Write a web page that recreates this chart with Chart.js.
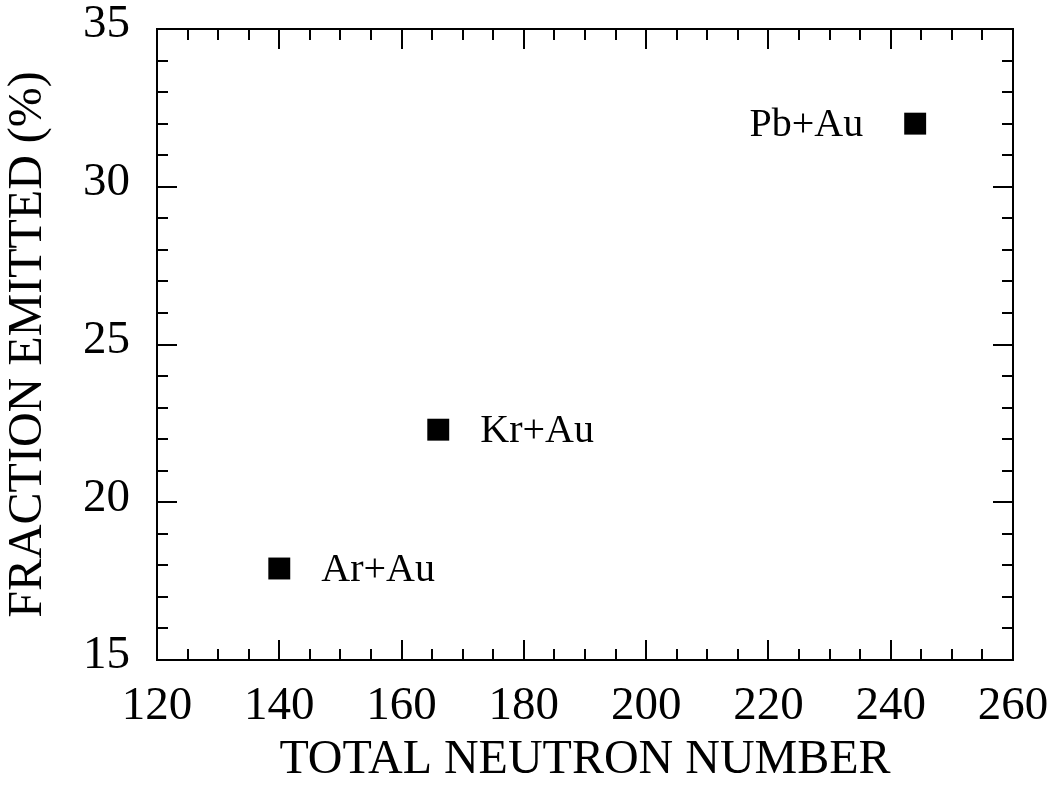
<!DOCTYPE html>
<html>
<head>
<meta charset="utf-8">
<script src="https://cdn.jsdelivr.net/npm/chart.js@4.4.1/dist/chart.umd.min.js"></script>
<style>
  html, body { margin: 0; padding: 0; background: #ffffff; }
  canvas { display: block; }
</style>
</head>
<body>
<canvas id="chart" width="1058" height="789"></canvas>
<script>
// Collision systems and their measured values
const systems = ['Ar+Au', 'Kr+Au', 'Pb+Au'];
const totalNeutronNumber = [140, 166, 244];
const fractionEmitted = [17.9, 22.3, 32.0];

// Axis tick labels
const xTicks = [120, 140, 160, 180, 200, 220, 240, 260];
const yTicks = [15, 20, 25, 30, 35];

// Which side of its marker each system name is written on
const labelSide = ['right', 'right', 'left'];

const SERIF = '"Liberation Serif", "Times New Roman", serif';

// Boxed frame with inward major and minor ticks on all four sides
const frameTicks = {
  id: 'frameTicks',
  afterDraw(chart) {
    const { ctx, chartArea: a, scales: { x, y } } = chart;
    const major = 20, minor = 11;
    ctx.save();
    ctx.strokeStyle = '#000';
    ctx.lineWidth = 2;
    ctx.beginPath();
    for (let v = x.min; v <= x.max + 1e-9; v += 5) {
      const px = Math.round(x.getPixelForValue(v));
      const len = (v % 20 === 0) ? major : minor;
      ctx.moveTo(px, a.bottom); ctx.lineTo(px, a.bottom - len);
      ctx.moveTo(px, a.top); ctx.lineTo(px, a.top + len);
    }
    for (let v = y.min; v <= y.max + 1e-9; v += 1) {
      const py = Math.round(y.getPixelForValue(v));
      const len = (v % 5 === 0) ? major : minor;
      ctx.moveTo(a.left, py); ctx.lineTo(a.left + len, py);
      ctx.moveTo(a.right, py); ctx.lineTo(a.right - len, py);
    }
    ctx.stroke();
    ctx.strokeRect(a.left, a.top, a.right - a.left, a.bottom - a.top);
    ctx.restore();
  }
};

// System names written beside each marker
const pointLabels = {
  id: 'pointLabels',
  afterDatasetsDraw(chart) {
    const { ctx } = chart;
    const meta = chart.getDatasetMeta(0);
    ctx.save();
    ctx.fillStyle = '#000';
    ctx.font = '40px ' + SERIF;
    ctx.textBaseline = 'alphabetic';
    meta.data.forEach((pt, i) => {
      if (labelSide[i] === 'left') {
        ctx.textAlign = 'right';
        ctx.fillText(systems[i], pt.x - 52, pt.y + 12);
      } else {
        ctx.textAlign = 'left';
        ctx.fillText(systems[i], pt.x + 42, pt.y + 12);
      }
    });
    ctx.restore();
  }
};

// Fixed axis box sizes; label overhang is absorbed by the layout padding
function zeroPadding(scale) {
  scale.paddingTop = 0;
  scale.paddingBottom = 0;
  scale.paddingLeft = 0;
  scale.paddingRight = 0;
}

new Chart(document.getElementById('chart'), {
  type: 'scatter',
  data: {
    datasets: [{
      data: totalNeutronNumber.map((n, i) => ({ x: n, y: fractionEmitted[i] })),
      pointStyle: 'rect',
      pointRadius: 15.5,
      pointHoverRadius: 15.5,
      backgroundColor: '#000',
      borderColor: '#000',
      borderWidth: 0
    }]
  },
  options: {
    responsive: false,
    animation: false,
    events: [],
    layout: { padding: { left: 0, top: 29, right: 45, bottom: 0 } },
    plugins: { legend: { display: false }, tooltip: { enabled: false } },
    scales: {
      x: {
        type: 'linear',
        min: 120,
        max: 260,
        afterBuildTicks(scale) { scale.ticks = xTicks.map(v => ({ value: v })); },
        afterFit(scale) { scale.height = 129; zeroPadding(scale); },
        grid: { display: false, drawTicks: false },
        border: { display: false },
        ticks: {
          color: '#000',
          font: { family: SERIF, size: 47 },
          padding: 18,
          maxRotation: 0,
          autoSkip: false
        },
        title: {
          display: true,
          text: 'TOTAL NEUTRON NUMBER',
          color: '#000',
          font: { family: SERIF, size: 48 },
          padding: { top: 0, bottom: 0 }
        }
      },
      y: {
        type: 'linear',
        min: 15,
        max: 35,
        afterBuildTicks(scale) { scale.ticks = yTicks.map(v => ({ value: v })); },
        afterFit(scale) { scale.width = 157; zeroPadding(scale); },
        grid: { display: false, drawTicks: false },
        border: { display: false },
        ticks: {
          color: '#000',
          font: { family: SERIF, size: 47 },
          padding: 27,
          labelOffset: -4,
          autoSkip: false
        },
        title: {
          display: true,
          text: 'FRACTION EMITTED (%)',
          color: '#000',
          font: { family: SERIF, size: 48 },
          padding: { top: 0, bottom: 0 }
        }
      }
    }
  },
  plugins: [frameTicks, pointLabels]
});
</script>
</body>
</html>
